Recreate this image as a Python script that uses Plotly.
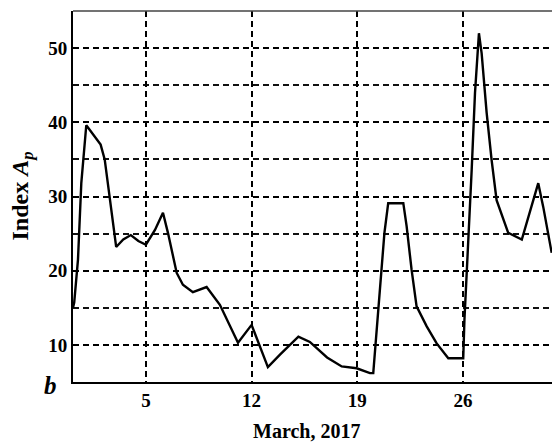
import plotly.graph_objects as go

# Geomagnetic Ap index, March 2017 (day of month, fractional)
days = [0.17, 0.25, 0.5, 0.72, 1.05, 1.5, 2.0, 2.27, 2.6, 3.03, 3.5, 4.0, 4.5,
        5.0, 5.6, 6.13, 6.46, 7.04, 7.45, 8.11, 9.02, 9.9, 11.1, 12.0, 13.08,
        13.88, 15.1, 15.86, 17.0, 17.97, 18.96, 19.5, 19.84, 20.06, 20.17,
        20.39, 20.6, 20.8, 21.05, 22.05, 22.27, 22.6, 22.93, 23.6, 24.26,
        25.03, 26.02, 26.1, 26.25, 26.35, 26.58, 26.8, 27.02, 27.06, 27.24,
        27.57, 27.9, 28.23, 29.0, 29.9, 30.99, 31.32, 31.88]
ap_index = [15.0, 15.7, 21.5, 31.8, 39.6, 38.3, 37.0, 35.0, 30.0, 23.2, 24.2,
            24.8, 24.0, 23.5, 25.5, 27.8, 25.1, 19.7, 18.1, 17.1, 17.8, 15.4,
            10.3, 12.7, 7.0, 8.7, 11.1, 10.4, 8.3, 7.1, 6.85, 6.5, 6.2, 6.2,
            8.9, 14.7, 20.1, 25.1, 29.1, 29.1, 26.0, 20.1, 15.2, 12.5, 10.2,
            8.2, 8.2, 13.4, 19.7, 23.7, 33.6, 44.0, 49.8, 52.0, 49.3, 41.3,
            34.9, 29.5, 25.1, 24.2, 31.8, 28.6, 22.4]

x_ticks = [5, 12, 19, 26]
y_ticks = [10, 20, 30, 40, 50]

SERIF = "Liberation Serif, Times New Roman, serif"
DASH = "6px,4px"

fig = go.Figure(go.Scatter(
    x=days, y=ap_index, mode="lines",
    line=dict(color="black", width=2.4),
    hoverinfo="skip",
))

fig.update_layout(
    width=552, height=446,
    margin=dict(l=73, r=0, t=11, b=64),
    paper_bgcolor="white", plot_bgcolor="white",
    showlegend=False,
    font=dict(family=SERIF, color="black"),
    xaxis=dict(
        range=[0.17, 31.9], tickvals=x_ticks,
        ticktext=[f"<b>{t}</b>" for t in x_ticks],
        tickfont=dict(size=19, family=SERIF),
        showgrid=True, gridcolor="black", gridwidth=1.8, griddash=DASH,
        showline=True, linecolor="black", linewidth=2,
        ticks="", ticklen=0, zeroline=False,
    ),
    yaxis=dict(
        range=[5, 55], tickvals=y_ticks,
        ticktext=[f"<b>{t}</b>" for t in y_ticks],
        tickfont=dict(size=19, family=SERIF),
        showgrid=True, gridcolor="black", gridwidth=1.7, griddash=DASH,
        minor=dict(tickvals=[15, 25, 35, 45], showgrid=True, gridcolor="#111",
                   gridwidth=1.6, griddash=DASH, ticks=""),
        showline=True, linecolor="black", linewidth=2,
        ticks="", ticklen=0, zeroline=False,
    ),
    shapes=[dict(type="line", xref="paper", yref="paper", x0=0, x1=1, y0=1, y1=1,
                 line=dict(color="#444", width=1.5))],
    annotations=[
        dict(text="<b>March, 2017</b>", xref="paper", yref="paper",
             x=0.487, y=0, yanchor="middle", yshift=-49, showarrow=False,
             font=dict(size=20, family=SERIF)),
        dict(text="<b>Index <i>A</i><sub><i>p</i></sub></b>", xref="paper", yref="paper",
             x=0, y=0.5, xanchor="center", yanchor="middle", xshift=-52,
             textangle=-90, showarrow=False, font=dict(size=24, family=SERIF)),
        dict(text="<b><i>b</i></b>", xref="paper", yref="paper",
             x=0, y=0, xanchor="center", yanchor="middle", xshift=-23, yshift=-3,
             showarrow=False, font=dict(size=25, family=SERIF)),
    ],
)

fig.write_html("out.html")
